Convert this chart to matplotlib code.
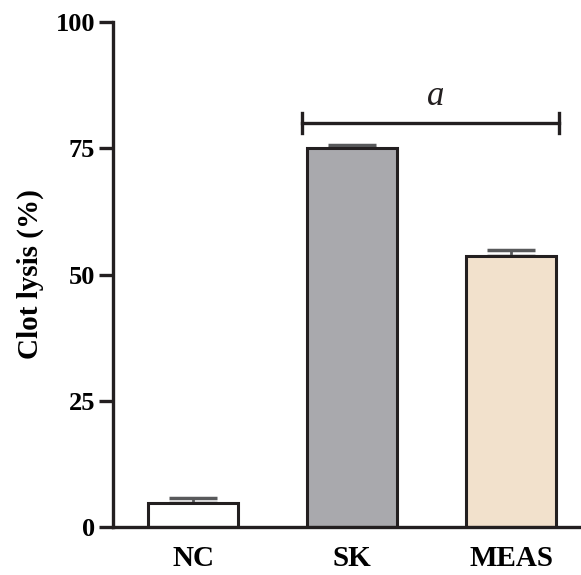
import matplotlib as mpl
mpl.use('Agg')
import matplotlib.pyplot as plt
import numpy as np

# data
groups = ['NC', 'SK', 'MEAS']
lysis = [4.7, 75.0, 53.6]
sem = [1.0, 0.7, 1.3]
bar_colors = ['#ffffff', '#a9a9ad', '#f2e1cc']
yticks = [0, 25, 50, 75, 100]

plt.rcParams['font.family'] = ['Liberation Serif', 'DejaVu Serif']

fig = plt.figure(figsize=(5.81, 5.75), dpi=100)
ax = fig.add_axes([0.1945, 0.0835, 0.803, 0.878])

x = np.arange(len(groups))
edge = '#231f20'
ax.errorbar(x, lysis, yerr=[[0] * len(sem), sem], fmt='none', ecolor='#58595b',
            elinewidth=2, capsize=17, capthick=2.5, zorder=1)
ax.bar(x, lysis, width=0.566, color=bar_colors, edgecolor=edge, linewidth=2.2, zorder=2)

# significance bracket between SK and MEAS
yb = 80
ax.plot([0.686, 2.30], [yb, yb], color=edge, lw=2.4, clip_on=False)
for xb in (0.686, 2.30):
    ax.plot([xb, xb], [yb - 2, yb + 2], color=edge, lw=2.4, clip_on=False)
ax.text((0.686 + 2.30) / 2 + 0.03, yb + 2.0, 'a', style='italic', fontsize=25,
        ha='center', va='bottom', color='#231f20')

ax.set_xlim(-0.503, 2.43)
ax.set_ylim(0, 100)
ax.set_yticks(yticks)
ax.set_xticks(x)
ax.set_xticklabels(groups, fontsize=21, fontweight='bold')
ax.set_yticklabels([str(t) for t in yticks], fontsize=19, fontweight='bold')
ax.tick_params(axis='y', length=10, width=2.4, color=edge, pad=3)
ax.tick_params(axis='x', length=0, pad=13)
ax.set_ylabel('Clot lysis (%)', fontsize=21, fontweight='bold', labelpad=8)

for s in ('top', 'right'):
    ax.spines[s].set_visible(False)
for s in ('left', 'bottom'):
    ax.spines[s].set_linewidth(2.4)
    ax.spines[s].set_color(edge)

plt.savefig('out.png', dpi=100)
